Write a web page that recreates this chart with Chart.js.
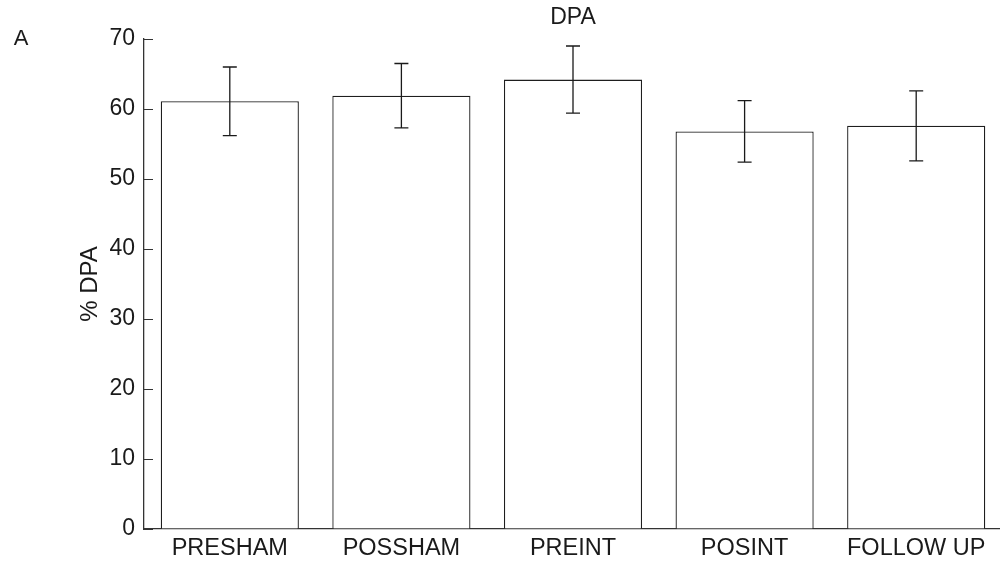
<!DOCTYPE html>
<html>
<head>
<meta charset="utf-8">
<title>DPA</title>
<script src="https://cdn.jsdelivr.net/npm/chart.js@4.4.1/dist/chart.umd.min.js"></script>
<style>
  html, body { margin: 0; padding: 0; background: #fff; overflow: hidden; }
  #wrap { width: 1004px; height: 564px; position: relative; }
</style>
</head>
<body>
<div id="wrap"><canvas id="chart"></canvas></div>
<script>
// Session labels along the x axis
const categories = ['PRESHAM', 'POSSHAM', 'PREINT', 'POSINT', 'FOLLOW UP'];
// Mean % DPA per session
const meanValues = [61.1, 61.9, 64.2, 56.8, 57.6];
// Error bar half-lengths (same units as the means)
const errorValues = [4.9, 4.6, 4.8, 4.4, 5.0];
// Y axis range and step
const yMin = 0;
const yMax = 70;
const yStep = 10;

const FONT = '"Liberation Sans", Arial, Helvetica, sans-serif';
const INK = '#1a1a1a';

// Vertical error bars with caps, centred on each bar
const errorBarsPlugin = {
  id: 'errorBars',
  afterDatasetsDraw(chart) {
    const meta = chart.getDatasetMeta(0);
    const y = chart.scales.y;
    const ctx = chart.ctx;
    ctx.save();
    ctx.strokeStyle = INK;
    ctx.lineWidth = 1.3;
    meta.data.forEach((bar, i) => {
      const hi = y.getPixelForValue(meanValues[i] + errorValues[i]);
      const lo = y.getPixelForValue(meanValues[i] - errorValues[i]);
      const cap = 7;
      ctx.beginPath();
      ctx.moveTo(bar.x, hi); ctx.lineTo(bar.x, lo);
      ctx.moveTo(bar.x - cap, hi); ctx.lineTo(bar.x + cap, hi);
      ctx.moveTo(bar.x - cap, lo); ctx.lineTo(bar.x + cap, lo);
      ctx.stroke();
    });
    ctx.restore();
  }
};

// Inward-pointing tick marks on the y axis, plus title and panel letter
const decorPlugin = {
  id: 'decor',
  afterDraw(chart) {
    const ctx = chart.ctx;
    const area = chart.chartArea;
    const y = chart.scales.y;
    ctx.save();
    ctx.strokeStyle = '#333';
    ctx.lineWidth = 1;
    y.ticks.forEach(t => {
      const py = Math.round(y.getPixelForValue(t.value)) + 0.5;
      ctx.beginPath();
      ctx.moveTo(area.left, py);
      ctx.lineTo(area.left + 9, py);
      ctx.stroke();
    });
    ctx.fillStyle = INK;
    ctx.textBaseline = 'middle';
    ctx.textAlign = 'center';
    ctx.font = '23px ' + FONT;
    ctx.fillText('DPA', (area.left + area.right) / 2, 18);
    ctx.font = '22px ' + FONT;
    ctx.fillText('A', 21, 39);
    ctx.restore();
  }
};

new Chart(document.getElementById('chart'), {
  type: 'bar',
  data: {
    labels: categories,
    datasets: [{
      data: meanValues,
      backgroundColor: '#ffffff',
      borderColor: '#1e1e1e',
      borderWidth: 1.3,
      borderSkipped: 'bottom',
      categoryPercentage: 1.0,
      barPercentage: 0.805
    }]
  },
  options: {
    responsive: true,
    maintainAspectRatio: false,
    animation: false,
    layout: { padding: { top: 39, right: 2, bottom: 0, left: 0 } },
    plugins: {
      legend: { display: false },
      title: { display: false },
      tooltip: { enabled: false }
    },
    scales: {
      x: {
        type: 'category',
        offset: true,
        grid: { display: false, drawTicks: false },
        border: { display: true, color: '#333', width: 1.3 },
        ticks: { color: INK, font: { family: FONT, size: 23.5 }, padding: 5, maxRotation: 0, autoSkip: false },
        afterFit(scale) { scale.height = 35; }
      },
      y: {
        min: yMin,
        max: yMax,
        grid: { drawOnChartArea: false, drawTicks: false },
        border: { display: true, color: '#333', width: 1.3 },
        ticks: { stepSize: yStep, color: INK, font: { family: FONT, size: 23 }, padding: 9 },
        title: {
          display: true,
          text: '% DPA',
          color: INK,
          font: { family: FONT, size: 24 },
          padding: { top: 76, bottom: 0 }
        },
        afterFit(scale) { scale.width = 144; }
      }
    }
  },
  plugins: [errorBarsPlugin, decorPlugin]
});
</script>
</body>
</html>
